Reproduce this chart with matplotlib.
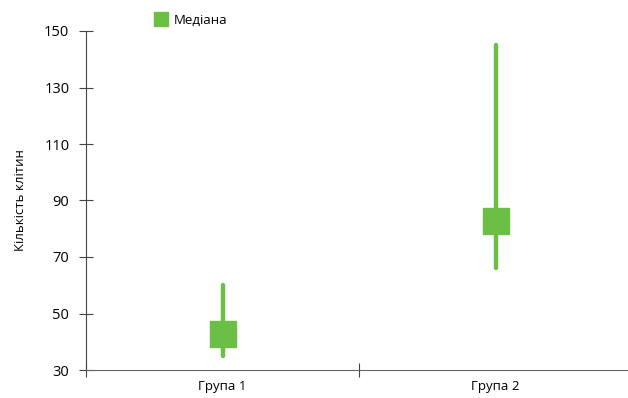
import matplotlib.pyplot as plt
from matplotlib.lines import Line2D

plt.rcParams['font.family'] = ['Open Sans', 'DejaVu Sans']

groups = ["Група 1", "Група 2"]
whisker_low = [35, 66]
whisker_high = [60, 145]
median = [42.6, 82.6]

green = "#6cbf45"

fig = plt.figure(figsize=(6.28, 3.98), dpi=100)
ax = fig.add_axes([86 / 628, 28 / 398, 546 / 628, 339 / 398])

pos = [i + 0.5 for i in range(len(groups))]
ax.vlines(pos, whisker_low, whisker_high, color=green, lw=3.2, capstyle="round")
ax.plot(pos, median, ls="none", marker="s", ms=18.5, color=green)

ax.set_xlim(0, 2)
ax.set_ylim(30, 150)
ax.set_yticks([30, 50, 70, 90, 110, 130, 150])
ax.set_xticks([0, 1, 2])
ax.set_xticklabels([])
ax.set_xticks(pos, minor=True)
ax.set_xticklabels(groups, minor=True)

for s in ["top", "right"]:
    ax.spines[s].set_visible(False)
ax.spines["left"].set_color("#444444")
ax.spines["bottom"].set_color("#666666")
ax.tick_params(axis="y", direction="inout", length=10, color="#444444", labelsize=10.5, pad=7)
ax.tick_params(axis="x", which="major", direction="inout", length=10, color="#444444")
ax.tick_params(axis="x", which="minor", length=0, labelsize=9.5, pad=7)
ax.set_ylabel("Кількість клітин", fontsize=9.5, labelpad=12)

handle = Line2D([], [], ls="none", marker="s", ms=10, color=green)
fig.legend([handle], ["Медіана"], loc="center left", bbox_to_anchor=(141 / 628, 1 - 20 / 398),
           frameon=False, fontsize=9.5, handletextpad=0.4, handlelength=1.2)

fig.savefig("out.png", dpi=100)
